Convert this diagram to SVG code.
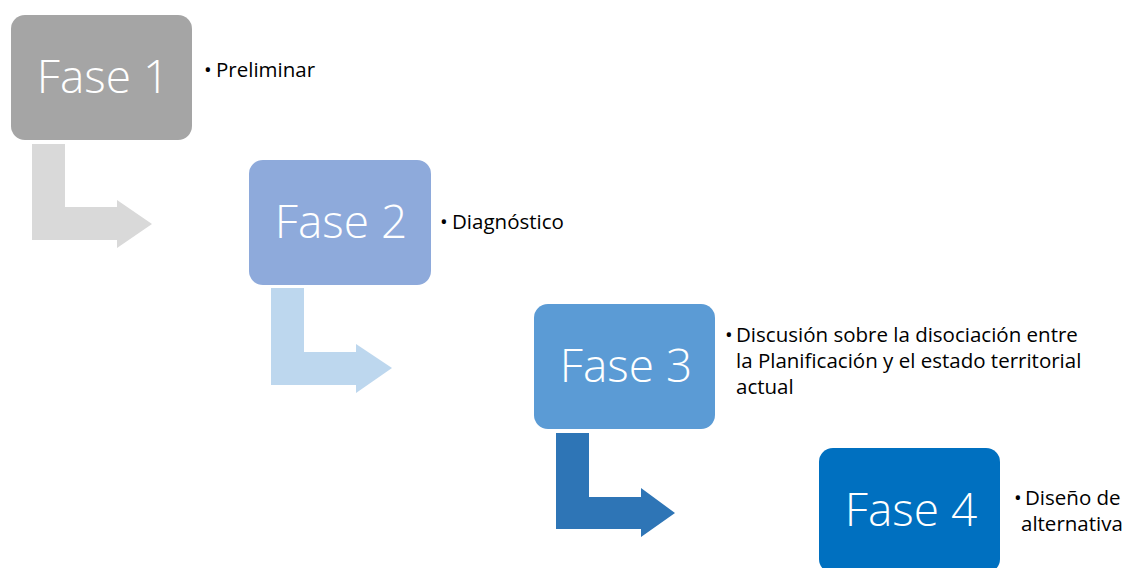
<svg xmlns="http://www.w3.org/2000/svg" width="1128" height="568" viewBox="0 0 1128 568">
<style>
.box{stroke:none}
.ft{font-family:"Open Sans","Noto Sans","Liberation Sans",sans-serif;font-weight:300;font-size:46px;fill:#ffffff;text-anchor:middle}
.lb{font-family:"Open Sans","Noto Sans","Liberation Sans",sans-serif;font-size:20.5px;fill:#000000}
</style>
<rect width="1128" height="568" fill="#ffffff"/>
<g id="connectors">
<path d="M32,144 H65 V207 H117 V200 L152,224 L117,248 V240 H32 Z" fill="#d9d9d9"/>
<path d="M271,288 H304 V352 H356 V344 L392,368 L356,393 V385 H271 Z" fill="#bdd7ee"/>
<path d="M556,433 H589 V497 H641 V488 L675,513 L641,537 V529 H556 Z" fill="#2e75b6"/>
</g>
<g id="fase1">
<rect class="box" x="11" y="15" width="181" height="125" rx="14" fill="#a5a5a5"/>
<text class="ft" x="103" y="93">Fase 1</text>
<text class="lb" x="204" y="77">•</text>
<text class="lb" x="216" y="77">Preliminar</text>
</g>
<g id="fase2">
<rect class="box" x="249" y="160" width="182" height="125" rx="14" fill="#8eaadb"/>
<text class="ft" x="341" y="238">Fase 2</text>
<text class="lb" x="440" y="229">•</text>
<text class="lb" x="452" y="229">Diagnóstico</text>
</g>
<g id="fase3">
<rect class="box" x="534" y="304" width="181" height="125" rx="14" fill="#5b9bd5"/>
<text class="ft" x="626" y="382">Fase 3</text>
<text class="lb" x="725" y="342">•</text>
<text class="lb"><tspan x="736" y="342">Discusión sobre la disociación entre</tspan><tspan x="736" y="368">la Planificación y el estado territorial</tspan><tspan x="736" y="394">actual</tspan></text>
</g>
<g id="fase4">
<rect class="box" x="819" y="448" width="181" height="125" rx="14" fill="#0070c0"/>
<text class="ft" x="911" y="526">Fase 4</text>
<text class="lb" x="1014" y="505">•</text>
<text class="lb"><tspan x="1025" y="505">Diseño de</tspan><tspan x="1021" y="531">alternativa</tspan></text>
</g>
</svg>
